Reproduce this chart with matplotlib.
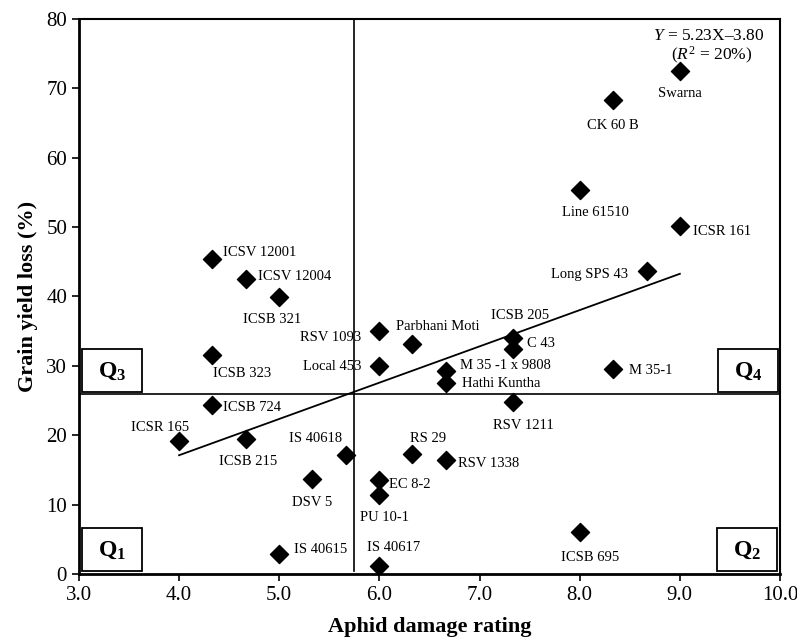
import numpy as np
import matplotlib.pyplot as plt
from matplotlib.patches import Rectangle

plt.rcParams['font.family'] = ['Liberation Serif', 'DejaVu Serif']
plt.rcParams['mathtext.fontset'] = 'custom'
plt.rcParams['mathtext.rm'] = 'Liberation Serif'
plt.rcParams['mathtext.it'] = 'Liberation Serif:italic'
plt.rcParams['mathtext.bf'] = 'Liberation Serif:bold'

# genotypes: aphid damage rating vs grain yield loss (%)
names = ['Swarna', 'CK 60 B', 'Line 61510', 'ICSR 161', 'Long SPS 43',
         'ICSB 205', 'C 43', 'M 35 -1 x 9808', 'Hathi Kuntha', 'RSV 1211',
         'Parbhani Moti', 'RSV 1093', 'Local 453', 'RS 29', 'RSV 1338',
         'IS 40618', 'ICSB 323', 'ICSB 724', 'ICSR 165', 'ICSB 215',
         'DSV 5', 'ICSV 12001', 'ICSV 12004', 'ICSB 321', 'EC 8-2',
         'PU 10-1', 'IS 40617', 'IS 40615', 'ICSB 695', 'M 35-1']
damage = [9.0, 8.33, 8.0, 9.0, 8.67,
          7.33, 7.33, 6.67, 6.67, 7.33,
          6.33, 6.0, 6.0, 6.33, 6.67,
          5.67, 4.33, 4.33, 4.0, 4.67,
          5.33, 4.33, 4.67, 5.0, 6.0,
          6.0, 6.0, 5.0, 8.0, 8.33]
yield_loss = [72.5, 68.3, 55.4, 50.2, 43.7,
              34.0, 32.4, 29.3, 27.6, 24.8,
              33.2, 35.0, 30.0, 17.3, 16.4,
              17.1, 31.5, 24.3, 19.1, 19.4,
              13.7, 45.4, 42.5, 39.9, 13.5,
              11.4, 1.2, 2.9, 6.0, 29.6]

slope, intercept = 5.23, -3.80
fit_range = [4.0, 9.0]
x_split, y_split = 5.75, 25.9

# label placement (pixels right, pixels down, alignment)
label_pos = {
    'Swarna': (0, 22, 'center'), 'CK 60 B': (0, 25, 'center'),
    'Line 61510': (16, 23, 'center'), 'ICSR 161': (13, 6, 'left'),
    'Long SPS 43': (-19, 4, 'right'), 'ICSB 205': (7, -23, 'center'),
    'C 43': (14, -6, 'left'), 'M 35 -1 x 9808': (14, -5, 'left'),
    'Hathi Kuntha': (16, 1, 'left'), 'RSV 1211': (11, 24, 'center'),
    'Parbhani Moti': (-16, -17, 'left'), 'RSV 1093': (-18, 6, 'right'),
    'Local 453': (-18, 1, 'right'), 'RS 29': (16, -15, 'center'),
    'RSV 1338': (12, 3, 'left'), 'IS 40618': (-4, -17, 'right'),
    'ICSB 323': (1, 18, 'left'), 'ICSB 724': (11, 2, 'left'),
    'ICSR 165': (-19, -14, 'center'), 'ICSB 215': (2, 22, 'center'),
    'DSV 5': (0, 24, 'center'), 'ICSV 12001': (11, -7, 'left'),
    'ICSV 12004': (12, -3, 'left'), 'ICSB 321': (-7, 22, 'center'),
    'EC 8-2': (10, 4, 'left'), 'PU 10-1': (5, 23, 'center'),
    'IS 40617': (14, -18, 'center'), 'IS 40615': (15, -4, 'left'),
    'ICSB 695': (10, 25, 'center'), 'M 35-1': (16, 2, 'left'),
}

fig = plt.figure(figsize=(7.97, 6.41), dpi=100)
ax = fig.add_axes([0.099, 0.1045, 0.8797, 0.8659])

ax.axvline(x_split, ymin=0.006, ymax=1, color='black', lw=1.2, zorder=1)
ax.axhline(y_split, color='black', lw=1.2, zorder=1)

xf = np.array(fit_range)
ax.plot(xf, slope * xf + intercept, color='black', lw=1.3, zorder=2)

ax.scatter(damage, yield_loss, marker='D', s=85, color='black', zorder=3)

for n, x, y in zip(names, damage, yield_loss):
    dx, dy, ha = label_pos[n]
    ax.annotate(n, (x, y), xytext=(dx, -dy), textcoords='offset pixels',
                ha=ha, va='center', fontsize=10.5, zorder=4)

# quadrant boxes
boxes = [(3.03, 0.5, 'Q_1'), (9.37, 0.5, 'Q_2'), (3.03, 26.3, 'Q_3'), (9.38, 26.3, 'Q_4')]
for bx, by, q in boxes:
    ax.add_patch(Rectangle((bx, by), 0.6, 6.2, fill=True, facecolor='white',
                           edgecolor='black', lw=1.3, zorder=4))
    ax.text(bx + 0.3, by + 3.0, r'$\mathbf{' + q + '}$', ha='center', va='center',
            fontsize=17, zorder=5)

ax.text(9.29, 77.6, r'$\mathit{Y}$ = 5.23X–3.80', ha='center', va='center', fontsize=12.5)
ax.text(9.32, 74.7, r'($\mathit{R}^2$ = 20%)', ha='center', va='center', fontsize=12.5)

ax.set_xlim(3, 10)
ax.set_ylim(0, 80)
ax.set_xticks(np.arange(3, 10.5, 1))
ax.set_xticklabels([f'{v:.1f}' for v in np.arange(3, 10.5, 1)])
ax.set_yticks(np.arange(0, 81, 10))
ax.tick_params(direction='out', length=5, width=1.2, labelsize=15)
ax.set_xlabel('Aphid damage rating', fontsize=16, fontweight='bold', labelpad=9)
ax.set_ylabel('Grain yield loss (%)', fontsize=16, fontweight='bold', labelpad=6)
for side in ['left', 'bottom']:
    ax.spines[side].set_linewidth(2)
for side in ['top', 'right']:
    ax.spines[side].set_linewidth(1.5)

plt.savefig('out.png', dpi=100)
